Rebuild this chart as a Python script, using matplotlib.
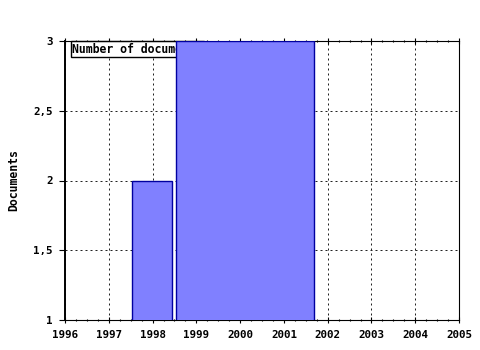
import matplotlib
matplotlib.use('Agg')
import matplotlib.pyplot as plt
from matplotlib.ticker import MultipleLocator, FuncFormatter

# bars (x in years)
bar_left = [1997.54, 1998.54]
bar_right = [1998.45, 2001.69]
counts = [2, 3]
legend_label = 'Number of documents'
y_label = 'Documents'

fig = plt.figure(figsize=(4.8, 3.5), dpi=100)
ax = fig.add_axes([65/480, 1 - 320/350, (459 - 65)/480, (320 - 41)/350])

widths = [r - l for l, r in zip(bar_left, bar_right)]
ax.bar(bar_left, counts, width=widths, align='edge', color='#8080ff',
       edgecolor='#0000a0', linewidth=1, zorder=3)

ax.set_xlim(1996, 2005)
ax.set_ylim(1, 3)
ax.xaxis.set_major_locator(MultipleLocator(1))
ax.xaxis.set_minor_locator(MultipleLocator(0.25))
ax.yaxis.set_major_locator(MultipleLocator(0.5))
ax.yaxis.set_major_formatter(FuncFormatter(lambda v, p: ('%g' % v).replace('.', ',')))

ax.grid(True, which='major', linestyle=(0, (2, 3)), color='#222222', linewidth=0.72, zorder=1)
ax.set_axisbelow(True)

for lab in ax.get_xticklabels() + ax.get_yticklabels():
    lab.set_fontfamily('DejaVu Sans Mono')
    lab.set_fontweight('bold')
    lab.set_fontsize(7.8)

ax.tick_params(axis='x', which='both', top=True, direction='inout', length=4, width=0.8, pad=5)
ax.tick_params(axis='x', which='minor', length=2)
ax.tick_params(axis='y', which='major', direction='out', length=4, width=0.8, pad=5)
for s in ax.spines.values():
    s.set_linewidth(0.8)
ax.spines['left'].set_linewidth(1.4)

fnt = dict(family='DejaVu Sans Mono', weight='bold', size=8.3)
ax.set_ylabel(y_label, fontdict=fnt)
ax.yaxis.set_label_coords(-45/394, 0.5)

# legend box sits under the bars, as in the original
ax.text(1996.17, 2.94, legend_label, fontdict=fnt, va='center', ha='left', zorder=2,
        bbox=dict(boxstyle='square,pad=0.12', facecolor='white', edgecolor='black', linewidth=1))

fig.savefig('out.png', dpi=100)
